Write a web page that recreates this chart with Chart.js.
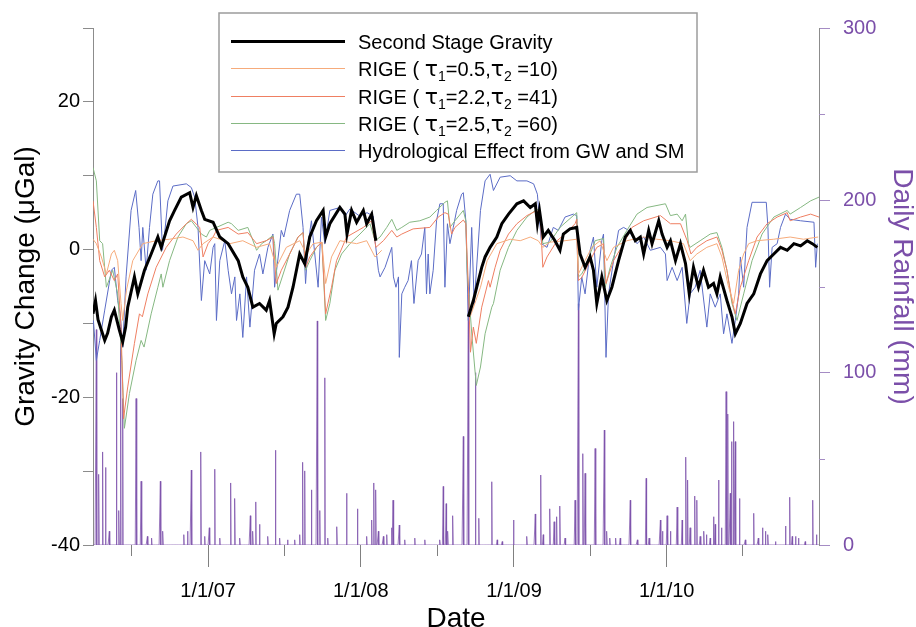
<!DOCTYPE html>
<html>
<head>
<meta charset="utf-8">
<script src="https://cdn.jsdelivr.net/npm/chart.js@4.4.1/dist/chart.umd.min.js"></script>
<style>
  html, body { margin: 0; padding: 0; background: #fff; }
</style>
</head>
<body>
<canvas id="gravityChart" width="916" height="627"></canvas>
<script>
// x values are days counted from 1 Apr 2006; the axis ends on 31 Dec 2010
const DAY_MAX = 1735;
const yearTickDays = [275, 640, 1006, 1371];
const yearTickLabels = ['1/1/07', '1/1/08', '1/1/09', '1/1/10'];
const midYearTickDays = [91, 456, 822, 1187, 1552];
const rainMinorTicks = [50, 150, 250];

const seriesNames = [
  'Second Stage Gravity',
  'RIGE ( τ1=0.5,τ2 =10)',
  'RIGE ( τ1=2.2,τ2 =41)',
  'RIGE ( τ1=2.5,τ2 =60)',
  'Hydrological Effect from GW and SM'
];

// second stage gravity residual (µGal), null = no data
const gravDays = [0,6,12,20,28,35,44,51,63,71,78,83,99,107,123,139,155,163,183,195,211,231,239,247,259,267,287,303,323,347,358,370,382,398,414,422,433,438,454,466,478,494,506,518,534,550,556,566,590,602,607,618,630,646,654,666,676,790,
  897,909,917,929,937,949,965,977,993,1013,1029,1045,1057,1062,1067,1076,1088,1104,1116,1124,1140,1156,1164,1176,1188,1196,1204,1216,1228,1240,1256,1272,1284,1296,1308,1316,1328,1336,1352,1360,1372,1380,1392,1404,1416,1425,1435,1447,1459,1471,1483,1491,1499,1515,1527,1535,1547,1563,1579,1595,1611,1627,1643,1659,1675,1691,1707,1719,1731];
const gravVals = [-8.7,-6.9,-9.5,-10.9,-12.3,-11.3,-9.1,-8.2,-10.9,-12.5,-10.5,-7.8,-3.7,-6.0,-2.8,-0.6,1.7,0.3,3.9,5.3,7.1,7.7,5.7,7.3,5.3,4.1,3.7,1.7,0.8,-1.5,-3.7,-5.1,-7.8,-7.3,-8.2,-6.9,-11.4,-10.0,-9.1,-7.8,-5.1,-0.6,-1.9,1.7,3.9,5.3,1.7,3.5,5.7,4.8,2.1,5.3,3.7,5.3,3.5,4.8,1.2,null,
  -9.1,-6.9,-5.1,-2.4,-1.0,0.3,1.7,3.5,4.8,6.2,6.6,5.7,6.2,3.5,5.3,1.7,2.6,1.2,-0.1,2.1,2.8,3.0,-0.6,-2.4,-1.0,-2.8,-7.3,-3.7,-6.9,-5.1,-1.5,1.7,2.6,1.2,1.7,-0.6,2.6,0.8,3.9,2.1,0.3,1.2,-1.5,0.8,-1.9,-6.0,-2.4,-5.1,-2.8,-5.1,-4.6,-6.0,-3.7,-6.9,-9.1,-11.4,-10.0,-7.3,-6.0,-3.3,-1.5,-0.6,0.3,-0.1,0.8,0.5,1.2,0.8,0.3];

// RIGE model, tau1 = 0.5, tau2 = 10
const rige05Days = [0,8,20,32,44,51,59,67,71,80,95,119,151,183,215,239,251,263,287,303,327,358,391,422,438,462,494,510,526,547,556,570,590,630,654,674,690,800,
  902,926,942,965,997,1021,1045,1064,1075,1092,1128,1156,1160,1176,1192,1212,1228,1244,1276,1316,1347,1380,1411,1427,1443,1467,1491,1503,1519,1531,1543,1555,1567,1587,1627,1666,1698,1733];
const rige05Vals = [1.4,0.8,-1.0,-3.3,-0.6,-0.1,-1.5,-7.3,-9.6,-5.5,-1.5,0.8,1.2,1.4,1.7,1.2,-0.1,0.8,1.7,1.4,0.8,1.2,0.3,0.8,-2.4,0.3,1.2,-0.6,0.8,1.0,-4.6,-1.0,1.2,0.8,1.2,-1.0,-0.1,null,
  -9.0,-5.1,-1.5,0.8,1.4,1.2,1.7,1.2,0.3,1.0,1.2,1.4,-3.3,-1.5,0.3,1.2,-1.5,0.3,1.2,1.7,1.4,1.2,0.8,-1.5,-0.6,0.3,0.8,-1.0,-5.1,-7.3,-2.8,-0.6,0.8,1.2,1.4,1.7,1.4,1.7];

// RIGE model, tau1 = 2.2, tau2 = 41
const rige22Days = [0,8,16,28,39,51,59,67,73,83,99,111,118,131,151,175,199,223,235,255,263,275,287,295,323,347,370,391,414,430,438,450,470,490,502,508,518,534,547,556,570,582,606,646,666,676,694,714,726,738,765,805,825,841,849,857,865,885,891,897,902,909,916,929,945,949,961,973,993,1013,1037,1061,1069,1075,1085,1109,1128,1152,1156,1160,1168,1188,1204,1220,1226,1244,1268,1288,1316,1356,1380,1404,1420,1429,1443,1467,1491,1503,1515,1527,1535,1547,1567,1587,1611,1635,1659,1666,1691,1715,1735];
const rige22Vals = [6.6,3.0,-1.5,-3.7,-2.8,-4.2,-3.3,-10.5,-22.9,-18.6,-12.7,-8.7,-9.1,-6.0,-2.4,0.3,2.1,3.5,4.1,3.0,-1.0,0.8,1.7,2.6,3.0,2.1,2.3,0.8,1.2,1.7,-4.6,-2.8,-0.6,1.7,2.3,-2.4,-1.0,0.3,1.0,-8.7,-5.1,-1.5,1.7,3.0,3.9,0.3,1.2,2.6,1.7,2.1,2.8,3.0,4.4,5.0,4.8,2.1,3.0,4.0,3.5,-5.0,-13.9,-10.5,-12.7,-7.8,-4.2,-5.1,-2.4,-0.1,2.1,3.5,4.6,5.3,4.4,-2.4,-1.0,1.2,2.1,3.5,4.1,-4.2,-3.8,-1.5,0.3,0.8,-4.6,-1.5,0.8,3.0,3.9,4.6,3.5,3.5,1.2,-0.6,0.3,1.2,1.7,-0.1,-2.8,-6.9,-8.7,-5.1,-1.5,1.7,3.5,4.4,5.0,3.9,4.4,4.8,4.4];

// RIGE model, tau1 = 2.5, tau2 = 60
const rige25Days = [0,8,16,23,32,47,59,69,75,87,103,115,122,139,155,163,167,183,203,223,235,259,271,279,295,323,331,347,370,379,391,403,414,430,434,442,470,490,502,508,518,534,547,556,566,578,594,614,638,662,674,686,702,714,726,738,757,781,805,821,841,847,853,865,885,891,894,906,916,926,937,953,957,973,993,1013,1037,1061,1069,1075,1092,1116,1152,1156,1160,1168,1176,1188,1200,1220,1224,1236,1252,1276,1300,1324,1368,1380,1396,1408,1416,1423,1427,1451,1475,1491,1503,1515,1527,1539,1555,1575,1599,1627,1659,1666,1691,1715,1735];
const rige25Vals = [11.1,9.3,1.2,0.8,-5.1,-2.8,-6.0,-15.0,-24.2,-19.5,-15.0,-12.3,-13.2,-8.7,-5.1,-3.3,-5.1,-1.5,1.7,3.5,3.9,2.1,1.7,2.6,3.0,3.7,3.5,2.6,3.0,1.7,-0.1,0.8,1.2,1.9,0.8,-5.5,-0.6,1.7,2.3,-2.8,-1.5,0.3,1.0,-9.6,-7.3,-2.8,-0.6,0.8,2.1,3.5,1.2,1.7,3.0,4.1,2.6,3.0,3.7,3.9,4.4,5.3,6.4,6.6,3.0,3.9,5.3,3.9,-2.8,-12.0,-18.4,-15.9,-11.4,-7.8,-7.3,-2.8,0.3,2.6,4.4,5.5,4.8,0.8,1.0,3.0,4.8,5.0,-3.7,-3.3,-2.4,-0.6,1.2,1.5,-5.1,-2.4,0.3,2.6,4.8,5.7,6.2,4.6,4.8,3.9,4.8,0.8,0.3,1.2,2.1,2.3,0.3,-2.8,-7.3,-9.6,-6.0,-1.5,2.1,4.4,5.3,4.8,5.7,6.6,7.1];

// hydrological effect from groundwater and soil moisture
const hydroDays = [1,8,16,28,44,51,59,65,71,79,91,102,110,115,119,127,135,143,155,159,166,171,179,191,223,235,243,251,259,267,279,287,291,295,303,315,323,331,339,343,351,358,367,375,386,398,406,418,430,434,450,456,470,486,494,502,508,514,522,538,546,554,566,590,602,614,638,655,670,674,682,686,698,714,718,724,730,732,738,745,753,761,767,777,785,793,797,801,805,813,821,829,837,841,847,853,861,869,881,885,891,897,905,911,926,937,949,957,973,997,1013,1037,1053,1062,1072,1085,1100,1112,1128,1148,1156,1160,1168,1176,1188,1196,1204,1216,1220,1226,1232,1244,1256,1268,1280,1300,1316,1332,1356,1368,1372,1384,1396,1408,1419,1427,1439,1451,1467,1475,1487,1499,1507,1515,1527,1535,1543,1547,1555,1563,1575,1609,1613,1617,1623,1635,1643,1655,1666,1691,1723,1727,1731];
const hydroVals = [-9.6,-15.0,-12.3,-8.2,-2.8,-2.4,-6.9,-8.7,-13.2,-3.7,5.3,8.0,3.0,-1.5,3.0,-2.8,3.0,7.5,9.3,9.3,-0.1,2.1,6.6,8.6,8.9,8.4,7.1,3.0,-6.9,-1.5,-3.3,0.3,0.8,-9.6,-1.5,1.2,-2.8,-6.0,-3.7,-9.6,-6.0,-11.9,-3.7,-10.5,-2.8,-0.6,-3.3,0.3,2.1,-5.1,2.6,1.7,5.3,7.5,7.5,3.0,-4.6,0.8,3.9,-5.1,4.4,0.8,5.3,5.7,4.5,5.5,4.5,5.0,4.5,1.2,-2.8,-3.7,-2.4,0.3,-3.7,-5.1,-3.7,-14.6,-6.0,-5.1,-4.2,-1.5,-7.3,-1.5,-0.6,3.0,-6.0,-0.6,-6.0,-2.8,3.9,6.2,6.2,-5.1,3.5,0.8,3.0,5.3,7.5,7.7,3.9,-9.6,3.0,-7.3,5.3,9.3,10.2,8.0,9.8,10.0,9.3,9.3,8.9,7.5,0.8,0.3,3.0,2.6,4.4,4.8,4.6,-8.2,-3.7,-6.0,-0.1,1.7,-5.1,1.2,2.1,-14.6,-6.0,-1.5,2.6,3.0,2.6,0.8,1.7,-0.1,0.3,-0.6,-4.2,-2.4,-4.2,-2.4,-10.0,-6.0,-5.1,-2.8,-10.5,-6.0,-7.8,-6.0,-11.4,-8.7,-12.7,-9.6,-6.0,-1.0,-5.1,3.0,6.4,6.4,3.0,-5.1,0.3,0.8,3.0,4.8,4.1,3.9,3.7,-2.4,0.8];

// daily rainfall (mm); days not listed had no rain
const rainDays = [8,14,23,30,39,56,62,66,71,103,115,130,140,161,167,217,226,235,258,267,278,291,303,329,339,351,376,382,389,398,418,436,446,465,482,494,501,506,522,536,542,554,561,583,606,632,654,666,671,676,682,694,702,714,717,732,745,769,793,829,837,844,848,860,885,897,914,922,953,966,978,1005,1037,1057,1070,1076,1092,1102,1108,1116,1128,1152,1160,1171,1176,1200,1222,1228,1235,1249,1260,1284,1301,1322,1329,1356,1361,1372,1380,1396,1408,1417,1421,1427,1438,1443,1451,1460,1466,1475,1483,1487,1495,1502,1513,1517,1523,1526,1531,1535,1545,1559,1579,1590,1600,1607,1613,1631,1655,1665,1671,1679,1686,1702,1720,1729];
const rainVals = [125,41,54,45,8,100,20,128,85,85,37,5,4,37,8,6,8,43.5,54,5,10,44,4,36,27,4,17,8,25,12,5,55,4,3,3,6,48,43,32,130,20,97,4,10.6,30,21,5,14.5,36,32,8,5,6,10,26,11.6,3,4,3,3,34,24,8,17,63,145,100,15.5,36.7,3,2,14.5,5,18,40.6,6,21,13.5,16.4,22.6,4,26,140,53,41.6,56,66.7,8,4,4,4,26,3,38.7,4,14.5,8,17,8,22,14.5,51,37.7,10,28.4,26,5,8,6,4,16.4,12,37.7,10,89,76,30,60,71.6,60,27,3,18.4,4,10,8,6,2,11,27.7,5,5,4,2,26,6];

const FONT = '"Liberation Sans", Arial, sans-serif';
const PURPLE = '#7b4fa9';
const AXIS_GRAY = '#8c8c8c';

function toPoints(days, vals) {
  return days.map((d, i) => ({ x: d, y: vals[i] }));
}

// one value per day so each rain event shows as a narrow spike
const rainByDay = {};
rainDays.forEach((d, i) => { rainByDay[d] = rainVals[i]; });
const rainPoints = [];
for (let d = 0; d <= DAY_MAX; d++) rainPoints.push({ x: d, y: rainByDay[d] || 0 });

// legend text: a digit after tau is set as a subscript
function drawLegendText(ctx, text, x, y) {
  text.split(/(τ\d)/).forEach(part => {
    if (!part) return;
    if (/^τ\d$/.test(part)) {
      ctx.font = '22px "DejaVu Sans", sans-serif';
      ctx.fillText('τ', x, y);
      x += ctx.measureText('τ').width;
      ctx.font = '14px ' + FONT;
      ctx.fillText(part[1], x, y + 5);
      x += ctx.measureText(part[1]).width;
    } else {
      ctx.font = '20px ' + FONT;
      ctx.fillText(part, x, y);
      x += ctx.measureText(part).width;
    }
  });
}

const boxedLegend = {
  id: 'boxedLegend',
  afterDraw(chart) {
    const ctx = chart.ctx;
    ctx.save();
    ctx.fillStyle = '#fff';
    ctx.fillRect(219, 13, 478, 159);
    ctx.strokeStyle = '#9c9c9c';
    ctx.lineWidth = 1.5;
    ctx.strokeRect(219, 13, 478, 159);
    ctx.textBaseline = 'alphabetic';
    chart.data.datasets.slice(0, 5).forEach((ds, i) => {
      const y = Math.round(41 + i * 27.3) + 0.5;
      ctx.strokeStyle = ds.borderColor;
      ctx.lineWidth = ds.borderWidth;
      ctx.beginPath();
      ctx.moveTo(231, y);
      ctx.lineTo(345, y);
      ctx.stroke();
      ctx.fillStyle = '#000';
      drawLegendText(ctx, ds.label, 358, y + 7);
    });
    ctx.restore();
  }
};

// shorter unlabelled ticks: 1 July on the date axis, odd fifties on the rainfall axis
const minorTicks = {
  id: 'minorTicks',
  afterDraw(chart) {
    const { ctx, chartArea, scales } = chart;
    ctx.save();
    ctx.lineWidth = 1;
    ctx.strokeStyle = '#808080';
    ctx.beginPath();
    midYearTickDays.forEach(d => {
      const px = Math.round(scales.x.getPixelForValue(d)) + 0.5;
      ctx.moveTo(px, chartArea.bottom);
      ctx.lineTo(px, chartArea.bottom + 11);
    });
    ctx.stroke();
    ctx.strokeStyle = '#a58cc4';
    ctx.beginPath();
    rainMinorTicks.forEach(v => {
      const py = Math.round(scales.y1.getPixelForValue(v)) + 0.5;
      ctx.moveTo(chartArea.right, py);
      ctx.lineTo(chartArea.right + 6, py);
    });
    ctx.stroke();
    ctx.restore();
  }
};

const lineStyle = { pointRadius: 0, tension: 0, fill: false, spanGaps: false };

new Chart(document.getElementById('gravityChart').getContext('2d'), {
  type: 'line',
  data: {
    datasets: [
      { ...lineStyle, label: seriesNames[0], data: toPoints(gravDays, gravVals), borderColor: '#000000', borderWidth: 3, yAxisID: 'y' },
      { ...lineStyle, label: seriesNames[1], data: toPoints(rige05Days, rige05Vals), borderColor: '#f6ab7b', borderWidth: 1, yAxisID: 'y' },
      { ...lineStyle, label: seriesNames[2], data: toPoints(rige22Days, rige22Vals), borderColor: '#ef7f62', borderWidth: 1, yAxisID: 'y' },
      { ...lineStyle, label: seriesNames[3], data: toPoints(rige25Days, rige25Vals), borderColor: '#86b882', borderWidth: 1, yAxisID: 'y' },
      { ...lineStyle, label: seriesNames[4], data: toPoints(hydroDays, hydroVals), borderColor: '#5b6cc6', borderWidth: 1, yAxisID: 'y' },
      { ...lineStyle, label: 'Daily Rainfall', data: rainPoints, borderColor: 'rgba(123,79,169,0.75)', borderWidth: 1, yAxisID: 'y1' }
    ]
  },
  options: {
    responsive: false,
    animation: false,
    layout: { padding: { top: 28, left: 0, right: 0, bottom: 0 } },
    plugins: {
      legend: { display: false },
      tooltip: { enabled: false }
    },
    scales: {
      x: {
        type: 'linear',
        min: 0,
        max: DAY_MAX,
        afterBuildTicks: scale => { scale.ticks = yearTickDays.map(v => ({ value: v })); },
        afterFit: scale => { scale.height = 82; },
        ticks: {
          autoSkip: false,
          maxRotation: 0,
          color: '#000',
          font: { family: FONT, size: 20 },
          padding: 12,
          callback: v => yearTickLabels[yearTickDays.indexOf(v)] || ''
        },
        grid: { drawOnChartArea: false, tickLength: 22, tickColor: '#808080' },
        border: { display: false },
        title: {
          display: true,
          text: 'Date',
          color: '#000',
          font: { family: FONT, size: 28, lineHeight: 1 },
          padding: { top: 0, bottom: -6 }
        }
      },
      y: {
        type: 'linear',
        position: 'left',
        min: -40,
        max: 30,
        afterFit: scale => { scale.width = 93; },
        ticks: {
          stepSize: 10,
          color: '#000',
          font: { family: FONT, size: 20 },
          padding: 3,
          callback: v => (v % 20 === 0 ? v : '')
        },
        grid: { drawOnChartArea: false, tickLength: 10, tickColor: AXIS_GRAY },
        border: { color: AXIS_GRAY },
        title: {
          display: true,
          text: 'Gravity Change (μGal)',
          color: '#000',
          font: { family: FONT, size: 28, lineHeight: 1 },
          padding: { top: 12, bottom: 0 }
        }
      },
      y1: {
        type: 'linear',
        position: 'right',
        min: 0,
        max: 300,
        afterFit: scale => { scale.width = 97; },
        ticks: {
          stepSize: 50,
          color: PURPLE,
          font: { family: FONT, size: 20 },
          padding: 13,
          callback: v => (v % 100 === 0 ? v : '')
        },
        grid: {
          drawOnChartArea: false,
          tickLength: 11,
          tickColor: c => (c.tick && c.tick.value % 100 === 0 ? '#a58cc4' : 'rgba(0,0,0,0)')
        },
        border: { color: AXIS_GRAY },
        title: {
          display: true,
          text: 'Daily Rainfall (mm)',
          color: PURPLE,
          font: { family: FONT, size: 28, lineHeight: 1 },
          padding: { top: 0, bottom: 0 }
        }
      }
    }
  },
  plugins: [minorTicks, boxedLegend]
});
</script>
</body>
</html>
